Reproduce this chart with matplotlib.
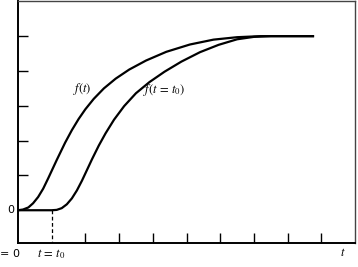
import matplotlib.pyplot as plt

plt.rcParams["mathtext.fontset"] = "stix"

# values (x in units of t0, y in tick units)
t_f = [0.0, 0.15, 0.31, 0.45, 0.60, 0.75, 0.90, 1.15, 1.40, 1.60, 1.80,
       2.00, 2.25, 2.55, 2.90, 3.30, 3.80, 4.40, 5.10, 5.80, 6.50, 7.20,
       8.75]
f_vals = [0.0, 0.02, 0.08, 0.20, 0.38, 0.62, 0.92, 1.44, 1.94, 2.30, 2.62,
          2.90, 3.20, 3.50, 3.78, 4.04, 4.30, 4.55, 4.76, 4.90, 4.97, 5.0,
          5.0]

t_g = [0.0, 1.0, 1.15, 1.30, 1.45, 1.60, 1.75, 1.90, 2.05, 2.20, 2.40,
       2.60, 2.85, 3.15, 3.50, 3.90, 4.35, 4.85, 5.40, 5.95, 6.50, 7.00,
       7.50, 8.75]
g_vals = [0.0, 0.0, 0.01, 0.06, 0.17, 0.34, 0.57, 0.85, 1.16, 1.47, 1.86,
          2.21, 2.60, 2.99, 3.36, 3.68, 3.98, 4.27, 4.54, 4.75, 4.91, 4.98,
          5.0, 5.0]

t0 = 1.0
x_ticks = [2, 3, 4, 5, 6, 7, 8, 9]
y_ticks = [1, 2, 3, 4, 5]

fig = plt.figure(figsize=(3.58, 2.67), dpi=100)
ax = fig.add_axes([0.050, 0.09, 0.942, 0.905])

ax.plot(t_f, f_vals, color="black", lw=1.6, solid_joinstyle="round")
ax.plot(t_g, g_vals, color="black", lw=1.6, solid_joinstyle="round")

# dashed marker at t = t0
ax.plot([t0, t0], [0, -0.94], color="black", lw=0.9, ls=(0, (3, 2)))

ax.set_xlim(0, 10)
ax.set_ylim(-0.94, 6.0)

ax.set_xticks(x_ticks)
ax.set_yticks(y_ticks)
ax.tick_params(direction="in", length=7, width=1.0, labelbottom=False,
               labelleft=False)

for side in ["left", "bottom"]:
    ax.spines[side].set_linewidth(1.4)
for side in ["top", "right"]:
    ax.spines[side].set_linewidth(1.0)
    ax.spines[side].set_color("#444444")

# curve labels
ax.text(1.9, 3.49, r"$f(t)$", fontsize=9, ha="center", va="center")
ax.text(4.35, 3.46, r"$f(t\,=\,t_0)$", fontsize=9, ha="center", va="center")

# axis annotations
ax.text(-0.12, 0.0, "0", fontsize=8, ha="right", va="center")
ax.text(0.1, -1.22, r"$t$ = 0", fontsize=8, ha="right", va="center",
        clip_on=False)
ax.text(t0, -1.25, r"$t\,=\,t_0$", fontsize=9, ha="center", va="center",
        clip_on=False)
ax.text(9.64, -1.22, r"$t$", fontsize=9, ha="center", va="center",
        clip_on=False)

fig.savefig("out.png", dpi=100)
